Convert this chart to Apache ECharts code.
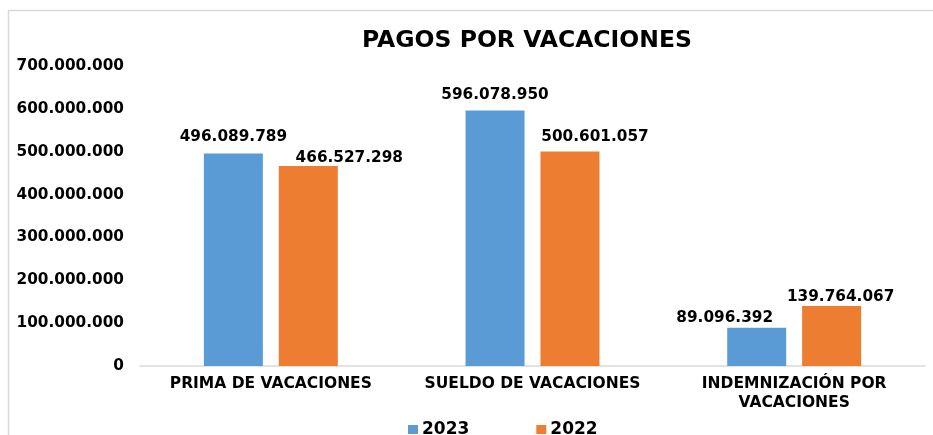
<!DOCTYPE html>
<html>
<head>
<meta charset="utf-8">
<script src="https://cdn.jsdelivr.net/npm/echarts@6/dist/echarts.min.js"></script>
<style>html,body{margin:0;padding:0;background:#fff}#c{width:933px;height:435px}</style>
</head>
<body>
<div id="c"></div>
<script>
const categories = ['PRIMA DE VACACIONES', 'SUELDO DE VACACIONES', 'INDEMNIZACIÓN POR\nVACACIONES'];
const values2023 = [496089789, 596078950, 89096392];
const values2022 = [466527298, 500601057, 139764067];
const yTicks = [0, 100000000, 200000000, 300000000, 400000000, 500000000, 600000000, 700000000];
const labelOffsets2023 = [[0, -4], [0, -3], [-32, 3]];
const labelOffsets2022 = [[41, 4], [25, -2], [9, 3]];

const FONT = 'DejaVu Sans';
function fmt(v) {
  return String(Math.round(v)).replace(/\B(?=(\d{3})+(?!\d))/g, '.');
}
function mk(vals, offs) {
  return vals.map((v, i) => ({ value: v, label: { offset: offs[i] } }));
}
const chart = echarts.init(document.getElementById('c'));
chart.setOption({
  animation: false,
  backgroundColor: '#fff',
  title: {
    text: 'PAGOS POR VACACIONES',
    left: 522, textAlign: 'center', top: 24,
    textStyle: { fontFamily: FONT, fontWeight: 'bold', fontSize: 23.5, color: '#000' }
  },
  graphic: [{
    type: 'rect', left: 6, top: 8,
    shape: { width: 960, height: 460 },
    style: { fill: 'none', stroke: '#d9d9d9', lineWidth: 1.5 }, silent: true
  }],
  legend: {
    left: 403, top: 416,
    itemWidth: 10, itemHeight: 9, itemGap: 67,
    icon: 'rect',
    textStyle: { fontFamily: FONT, fontWeight: 'bold', fontSize: 17, color: '#000', padding: [0, 0, 0, -1] },
    data: ['2023', '2022']
  },
  grid: { left: 140, right: 8, top: 66, bottom: 69, containLabel: false },
  xAxis: {
    type: 'category', data: categories,
    axisLine: { lineStyle: { color: '#d9d9d9', width: 1.5 } },
    axisTick: { show: false },
    axisLabel: { interval: 0, fontFamily: FONT, fontWeight: 'bold', fontSize: 15.5, color: '#000', margin: 8, lineHeight: 19 }
  },
  yAxis: {
    type: 'value', min: yTicks[0], max: yTicks[yTicks.length - 1], interval: yTicks[1] - yTicks[0],
    splitLine: { show: false },
    axisLine: { show: false }, axisTick: { show: false },
    axisLabel: { fontFamily: FONT, fontWeight: 'bold', fontSize: 15.3, color: '#000', margin: 16, formatter: fmt }
  },
  series: [
    {
      name: '2023', type: 'bar', data: mk(values2023, labelOffsets2023),
      barWidth: 59, barGap: '27%',
      itemStyle: { color: '#5B9BD5' },
      label: { show: true, position: 'top', distance: 5, fontFamily: FONT, fontWeight: 'bold', fontSize: 15.3, color: '#000', formatter: p => fmt(p.value) }
    },
    {
      name: '2022', type: 'bar', data: mk(values2022, labelOffsets2022),
      barWidth: 59, barGap: '27%',
      itemStyle: { color: '#ED7D31' },
      label: { show: true, position: 'top', distance: 5, fontFamily: FONT, fontWeight: 'bold', fontSize: 15.3, color: '#000', formatter: p => fmt(p.value) }
    }
  ]
});
</script>
</body>
</html>
